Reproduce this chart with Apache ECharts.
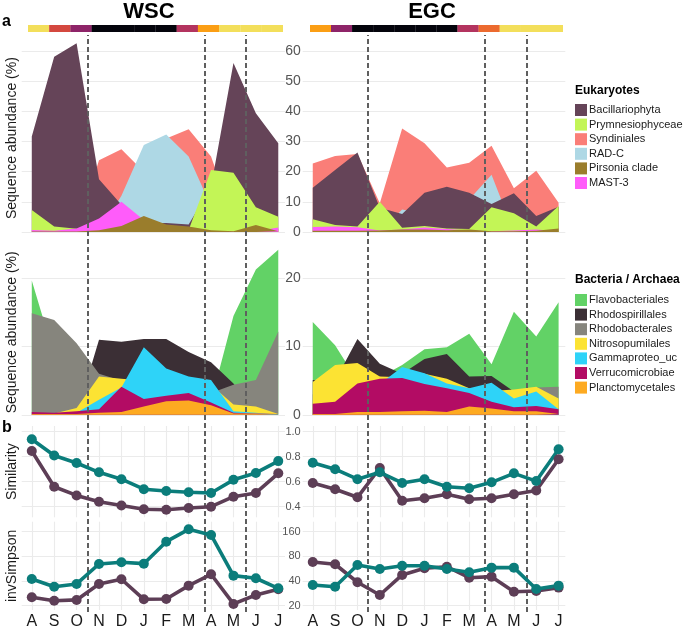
<!DOCTYPE html>
<html><head><meta charset="utf-8">
<script src="https://cdn.jsdelivr.net/npm/echarts@6/dist/echarts.min.js"></script>
<style>html,body{margin:0;padding:0;background:#fff}#c{width:685px;height:628px}</style>
</head><body><div id="c"></div>
<script>
// ---------------- data ----------------
const months = ['A','S','O','N','D','J','F','M','A','M','J','J'];
const seasonBreaks = [2.48, 7.71, 9.57];
const wscTiles = ['Y','R','P','K','K','K','K','Pk','O','Y','Y','Y'];
const egcTiles = ['O','P','K','K','K','K','K','Pk','Or','Y','Y','Y'];

// Eukaryotes (%), WSC
const wscBacillariophyta   = [31.6, 58, 62.5, 17.5, 9, 3, 3, 2.5, 15, 56, 39.3, 29.4];
const wscPrymnesiophyceae  = [7.3, 1.8, 1.1, 0.3, 0, 0, 0, 0.7, 20.5, 19.6, 8.2, 5.1];
const wscSyndiniales       = [0, 0, 0, 23.8, 27.4, 20, 31, 34, 25, 4, 2, 1];
const wscRADC              = [0, 0, 0, 0, 12, 28.8, 32.3, 25, 8.5, 0, 0, 0];
const wscPirsonia          = [0.2, 0.2, 0.2, 0.6, 2.0, 5.3, 2.5, 1.8, 0.6, 0.3, 2.3, 0.3];
const wscMAST3             = [0.7, 0.4, 1.2, 4.5, 10, 4, 0.8, 0.5, 0.3, 0.2, 0.3, 1.5];
// Eukaryotes (%), EGC
const egcBacillariophyta   = [14.7, 20.5, 26.3, 8, 6, 13, 15, 13, 9.3, 12.8, 5.3, 8.4];
const egcPrymnesiophyceae  = [4.2, 2.3, 1.8, 10, 1.4, 2, 1.2, 1.0, 8.2, 6.2, 1.8, 8.6];
const egcSyndiniales       = [22.7, 25.2, 25.8, 9.5, 34.3, 29.4, 21.4, 22.9, 28.6, 14.5, 20.3, 9.7];
const egcRADC              = [0, 0, 0, 0, 7.5, 6, 8, 10.8, 19, 0, 0, 0];
const egcPirsonia          = [0.4, 0.4, 0.4, 0.5, 0.8, 0.8, 0.6, 0.8, 0.3, 0.3, 0.4, 1.2];
const egcMAST3             = [1.7, 1.8, 1.6, 0.5, 0.8, 1.5, 1.0, 0.5, 0.3, 0.5, 0.8, 0.3];

// Bacteria / Archaea (%), WSC
const wscFlavobacteriales  = [19.7, 8.7, 4, 3, 3, 3, 3, 3, 2, 14.5, 21.3, 24.2];
const wscRhodospirillales  = [0, 0, 0, 11, 10.7, 11.1, 11.1, 9.2, 7.7, 4.6, 0, 0];
const wscRhodobacterales   = [14.9, 13.9, 10.5, 6, 5, 4, 3.5, 3.2, 3.2, 4.4, 5.1, 12.2];
const wscNitrosopumilales  = [0, 0.2, 1, 5.6, 5.3, 5, 5, 5, 4.4, 1.5, 1.2, 0.1];
const wscGammaproteo       = [0, 0, 0.3, 2.2, 4, 9.9, 6.8, 5.6, 5.1, 0.5, 0.3, 0];
const wscVerrucomicrobiae  = [0.4, 0.3, 0.5, 0.8, 4.1, 2.3, 2.8, 3.2, 1.8, 0.3, 0.2, 0.1];
const wscPlanctomycetales  = [0.1, 0.1, 0.1, 0.3, 0.4, 1.2, 2.0, 2.1, 1.4, 0.2, 0.2, 0.1];
// Bacteria / Archaea (%), EGC
const egcFlavobacteriales  = [13.6, 10.2, 5, 5.5, 7.3, 9.6, 9.9, 11.9, 7.4, 15.1, 11.5, 16.5];
const egcRhodospirillales  = [5.1, 5, 11.1, 7.5, 6, 8.2, 8.9, 5.6, 5.7, 3.4, 2, 1];
const egcRhodobacterales   = [3, 3, 4, 5.6, 4, 3, 3, 3, 3, 3.6, 4.0, 4.1];
const egcNitrosopumilales  = [4.8, 7.3, 7.6, 5.6, 5.5, 6.0, 5.3, 3.9, 3.5, 3.7, 4.1, 2.4];
const egcGammaproteo       = [0, 0, 0, 4.5, 7.0, 6.1, 4.6, 3.9, 4.7, 2.4, 3.4, 0.8];
const egcVerrucomicrobiae  = [1.6, 1.9, 4.6, 5.3, 5.4, 4.5, 3.9, 3.2, 1.9, 1.1, 1.3, 0.8];
const egcPlanctomycetales  = [0.1, 0.1, 0.4, 0.4, 0.5, 0.6, 0.4, 1.2, 0.9, 0.5, 0.5, 0.1];

// Similarity
const wscSimBac = [0.94, 0.81, 0.75, 0.675, 0.62, 0.54, 0.525, 0.515, 0.51, 0.615, 0.67, 0.765];
const wscSimEuk = [0.846, 0.56, 0.49, 0.44, 0.41, 0.38, 0.375, 0.39, 0.40, 0.48, 0.51, 0.667];
const egcSimBac = [0.752, 0.70, 0.62, 0.675, 0.59, 0.62, 0.56, 0.547, 0.595, 0.667, 0.605, 0.86];
const egcSimEuk = [0.59, 0.54, 0.475, 0.71, 0.448, 0.467, 0.50, 0.46, 0.467, 0.50, 0.53, 0.78];
// invSimpson (log scale)
const wscInvBac = [42.3, 34.1, 36.8, 64.5, 67.7, 65.1, 120.8, 171, 145.8, 46.5, 43.2, 32.6];
const wscInvEuk = [25.3, 23.0, 23.5, 36.8, 42.0, 23.9, 24.1, 35.1, 48.3, 21.0, 27.0, 31.7];
const egcInvBac = [35.8, 34.1, 62.8, 56.1, 61.5, 61.5, 56.1, 51.1, 58.2, 58.2, 32.0, 35.1];
const egcInvEuk = [68.3, 64.0, 38.6, 27.0, 47.4, 57.2, 59.8, 43.9, 45.2, 29.6, 30.2, 33.2];

const eukTicks = [0, 10, 20, 30, 40, 50, 60];
const bacTicks = [0, 10, 20];
const simTicks = [0.4, 0.6, 0.8, 1.0];
const invTicks = [20, 40, 80, 160];

// ---------------- styles ----------------
const F = 'Liberation Sans, Arial, Helvetica, sans-serif';
const tileColors = {Y:'#f3df5b', R:'#d4483f', P:'#8e2468', K:'#04040c', Pk:'#b3345f', O:'#fb9e14', Or:'#ec6a2f'};
const eukColors = {Bacillariophyta:'#654458', Prymnesiophyceae:'#c3f556', Syndiniales:'#fa7e78',
  'RAD-C':'#aed8e5', 'Pirsonia clade':'#9a7d2c', 'MAST-3':'#ff5cfa'};
const bacColors = {Flavobacteriales:'#62d266', Rhodospirillales:'#3b2f35', Rhodobacterales:'#86857d',
  Nitrosopumilales:'#fce333', Gammaproteo_uc:'#2ed3f8', Verrucomicrobiae:'#b30c64', Planctomycetales:'#fdaa21'};
const eukLegend = ['Bacillariophyta','Prymnesiophyceae','Syndiniales','RAD-C','Pirsonia clade','MAST-3'];
const bacLegend = ['Flavobacteriales','Rhodospirillales','Rhodobacterales','Nitrosopumilales','Gammaproteo_uc','Verrucomicrobiae','Planctomycetales'];
const teal = '#0b7d7b', plum = '#5d3e56';

const X0 = -0.45, X1 = 11.3;
const cols = [{left:21.7, width:263.3}, {left:302.7, width:262.6}];
const rows = [
  {key:'euk', top:34.8, height:206.6, min:-3.1, max:65.3, ticks:eukTicks, fs:14},
  {key:'bac', top:241.6, height:181.4, min:-1.21, max:25.41, ticks:bacTicks, fs:14},
  {key:'sim', top:426, height:91.3, min:0.315, max:1.046, ticks:simTicks, fs:11},
  {key:'inv', top:521.7, height:88.3, min:17.7, max:211.8, ticks:invTicks, fs:11, log:true}
];
const gridLine = {show:true, lineStyle:{color:'#ebebeb', width:1.1}};
const monthIdx = months.map((m,i)=>i);

const grid = [], xAxis = [], yAxis = [], series = [];
const gi = {};
function addGrid(g) { grid.push(Object.assign({containLabel:false, outerBoundsMode:'none'}, g)); }
rows.forEach((r, ri) => {
  cols.forEach((c, ci) => {
    const idx = grid.length;
    gi[r.key + ci] = idx;
    addGrid({left:c.left, top:r.top, width:c.width, height:r.height});
    const isLine = (r.key === 'sim' || r.key === 'inv');
    xAxis.push({gridIndex:idx, type:'value', min:X0, max:X1,
      axisLine:{show:false}, axisTick:{show:false, customValues:monthIdx},
      axisLabel:{show: r.key==='inv', customValues:monthIdx, formatter:v=>months[Math.round(v)],
        fontFamily:F, fontSize:16, color:'#1a1a1a', margin:4},
      splitLine: isLine ? gridLine : {show:false}});
    const ya = {gridIndex:idx, type: r.log ? 'log' : 'value', min:r.min, max:r.max,
      axisLine:{show:false}, axisTick:{show:false, customValues:r.ticks},
      axisLabel:{show: ci===1, customValues:r.ticks, fontFamily:F, fontSize:r.fs, color:'#555', margin:2,
        formatter: v => r.key==='sim' ? Number(v).toFixed(1) : String(Math.round(v))},
      splitLine: gridLine,
      name: ci===0 ? ({euk:'Sequence abundance (%)', bac:'Sequence abundance (%)', sim:'Similarity', inv:'invSimpson'})[r.key] : '',
      nameLocation:'middle', nameGap:3,
      nameTextStyle:{fontFamily:F, fontSize:14, color:'#1a1a1a'}};
    if (r.log) ya.logBase = 2;
    yAxis.push(ya);
  });
});
// overlay grids for dashed season lines
cols.forEach((c, ci) => {
  const idx = grid.length;
  gi['ov' + ci] = idx;
  addGrid({left:c.left, top:35, width:c.width, height:577});
  xAxis.push({gridIndex:idx, type:'value', min:X0, max:X1, show:false});
  yAxis.push({gridIndex:idx, type:'value', min:0, max:1, show:false});
  series.push({type:'line', xAxisIndex:idx, yAxisIndex:idx, data:[[0,0.5]], symbol:'none',
    lineStyle:{width:0}, silent:true, z:20, animation:false,
    markLine:{symbol:['none','none'], silent:true, animation:false, label:{show:false},
      lineStyle:{type:[5,3], color:'#5f5f5f', width:2},
      data: seasonBreaks.map(x => ({xAxis:x}))}});
});
// tiles
[{tiles:wscTiles, left:28, width:255}, {tiles:egcTiles, left:310, width:253}].forEach((t, ti) => {
  const idx = grid.length;
  addGrid({left:t.left, top:25, width:t.width, height:7});
  xAxis.push({gridIndex:idx, type:'category', data:months.map((m,i)=>i), show:false, boundaryGap:true});
  yAxis.push({gridIndex:idx, type:'value', min:0, max:1, show:false});
  series.push({type:'bar', xAxisIndex:idx, yAxisIndex:idx, barWidth:'101%', silent:true, animation:false,
    data: t.tiles.map(k => ({value:1, itemStyle:{color:tileColors[k]}}))});
});

function area(name, color, vals, g) {
  series.push({type:'line', name, xAxisIndex:g, yAxisIndex:g, color,
    data: vals.map((v,i)=>[i,v]), symbol:'none', showSymbol:false,
    lineStyle:{width:0}, itemStyle:{color}, areaStyle:{color, opacity:1},
    silent:true, animation:false, z:2});
}
// eukaryotes: back -> front
[[wscSyndiniales, egcSyndiniales,'Syndiniales'], [wscRADC, egcRADC,'RAD-C'],
 [wscBacillariophyta, egcBacillariophyta,'Bacillariophyta'], [wscPrymnesiophyceae, egcPrymnesiophyceae,'Prymnesiophyceae'],
 [wscMAST3, egcMAST3,'MAST-3'], [wscPirsonia, egcPirsonia,'Pirsonia clade']].forEach(([w,e,n]) => {
  area(n, eukColors[n], w, gi.euk0); area(n, eukColors[n], e, gi.euk1);
});
[[wscFlavobacteriales, egcFlavobacteriales,'Flavobacteriales'], [wscRhodospirillales, egcRhodospirillales,'Rhodospirillales'],
 [wscRhodobacterales, egcRhodobacterales,'Rhodobacterales'], [wscNitrosopumilales, egcNitrosopumilales,'Nitrosopumilales'],
 [wscGammaproteo, egcGammaproteo,'Gammaproteo_uc'], [wscVerrucomicrobiae, egcVerrucomicrobiae,'Verrucomicrobiae'],
 [wscPlanctomycetales, egcPlanctomycetales,'Planctomycetales']].forEach(([w,e,n]) => {
  area(n, bacColors[n], w, gi.bac0); area(n, bacColors[n], e, gi.bac1);
});
function lineS(name, color, vals, g) {
  series.push({type:'line', name, xAxisIndex:g, yAxisIndex:g, data: vals.map((v,i)=>[i,v]),
    symbol:'circle', symbolSize:10, showSymbol:true, lineStyle:{width:3.6, color}, itemStyle:{color},
    silent:true, animation:false, z:5});
}
lineS('sim euk', plum, wscSimEuk, gi.sim0); lineS('sim bac', teal, wscSimBac, gi.sim0);
lineS('sim euk', plum, egcSimEuk, gi.sim1); lineS('sim bac', teal, egcSimBac, gi.sim1);
lineS('inv euk', plum, wscInvEuk, gi.inv0); lineS('inv bac', teal, wscInvBac, gi.inv0);
lineS('inv euk', plum, egcInvEuk, gi.inv1); lineS('inv bac', teal, egcInvBac, gi.inv1);

const legendCommon = {orient:'vertical', left:575, itemWidth:12, itemHeight:12, itemGap:2.6, icon:'rect',
  selectedMode:false, padding:0, textStyle:{fontFamily:F, fontSize:11, color:'#1a1a1a', padding:[0,0,0,-3]}};

const option = {
  backgroundColor:'#fff', animation:false,
  title: [
    {text:'WSC', left:149, top:1, padding:0, textAlign:'center', textStyle:{fontFamily:F, fontSize:22, fontWeight:'bold', color:'#000'}},
    {text:'EGC', left:432, top:1, padding:0, textAlign:'center', textStyle:{fontFamily:F, fontSize:22, fontWeight:'bold', color:'#000'}},
    {text:'a', left:2, top:14, padding:0, textStyle:{fontFamily:F, fontSize:16, fontWeight:'bold', color:'#000'}},
    {text:'b', left:2, top:420, padding:0, textStyle:{fontFamily:F, fontSize:16, fontWeight:'bold', color:'#000'}},
    {text:'Eukaryotes', left:575, top:85, textStyle:{fontFamily:F, fontSize:12, fontWeight:'bold', color:'#000'}, padding:0},
    {text:'Bacteria / Archaea', left:575, top:274, textStyle:{fontFamily:F, fontSize:12, fontWeight:'bold', color:'#000'}, padding:0}
  ],
  legend: [
    Object.assign({}, legendCommon, {top:104, data:eukLegend}),
    Object.assign({}, legendCommon, {top:294, data:bacLegend})
  ],
  grid, xAxis, yAxis, series
};
const chart = echarts.init(document.getElementById('c'), null, {renderer:'canvas', width:685, height:628});
chart.setOption(option);
</script></body></html>
